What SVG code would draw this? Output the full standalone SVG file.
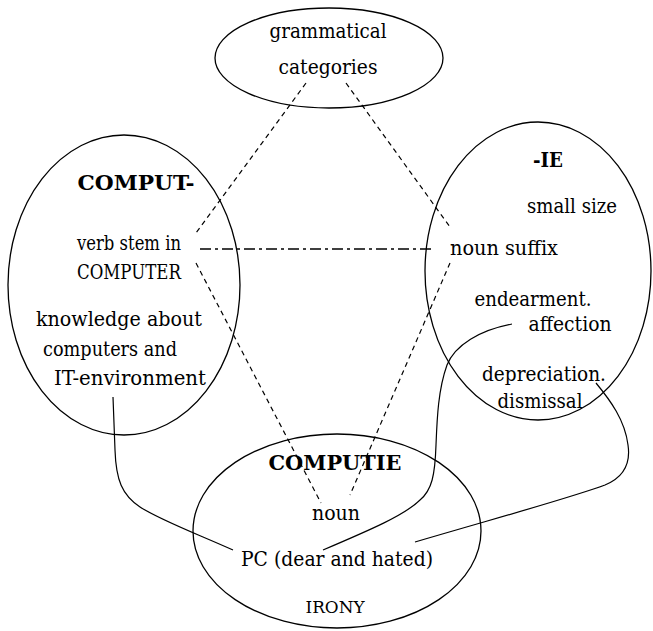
<svg xmlns="http://www.w3.org/2000/svg" width="653" height="631" viewBox="0 0 653 631">
<style>
ellipse{fill:none;stroke:#000;stroke-width:1.3}
text{font-family:'DejaVu Serif','Liberation Serif','Noto Serif',serif;font-size:21px;fill:#000;text-anchor:middle}
.b{font-weight:bold}
.s{font-size:16px}
.dash{fill:none;stroke:#000;stroke-width:1.2;stroke-dasharray:5 4}
.dd{fill:none;stroke:#000;stroke-width:1.6;stroke-dasharray:11 4 3 4}
.sol{fill:none;stroke:#000;stroke-width:1.2}
</style>
<rect width="653" height="631" fill="#fff"/>
<g id="grammatical">
<ellipse cx="329" cy="58" rx="114" ry="50"/>
<text x="328" y="38" textLength="117" lengthAdjust="spacingAndGlyphs">grammatical</text>
<text x="328" y="74" textLength="99" lengthAdjust="spacingAndGlyphs">categories</text>
</g>
<g id="comput">
<ellipse cx="124" cy="285" rx="116" ry="150"/>
<text class="b" x="136" y="190" textLength="117" lengthAdjust="spacingAndGlyphs">COMPUT-</text>
<text x="129" y="250" textLength="104" lengthAdjust="spacingAndGlyphs">verb stem in</text>
<text x="129" y="279" textLength="104" lengthAdjust="spacingAndGlyphs">COMPUTER</text>
<text x="119" y="326" textLength="166" lengthAdjust="spacingAndGlyphs">knowledge about</text>
<text x="110" y="356" textLength="134" lengthAdjust="spacingAndGlyphs">computers and</text>
<text x="130" y="385" textLength="152" lengthAdjust="spacingAndGlyphs">IT-environment</text>
</g>
<g id="ie">
<ellipse cx="538" cy="271" rx="113" ry="149"/>
<text class="b" x="548" y="167" textLength="30" lengthAdjust="spacingAndGlyphs">-IE</text>
<text x="572" y="213" textLength="90" lengthAdjust="spacingAndGlyphs">small size</text>
<text x="504" y="255" textLength="108" lengthAdjust="spacingAndGlyphs">noun suffix</text>
<text x="533" y="306" textLength="117" lengthAdjust="spacingAndGlyphs">endearment.</text>
<text x="570" y="331" textLength="83" lengthAdjust="spacingAndGlyphs">affection</text>
<text x="544" y="381" textLength="124" lengthAdjust="spacingAndGlyphs">depreciation.</text>
<text x="540" y="408" textLength="85" lengthAdjust="spacingAndGlyphs">dismissal</text>
</g>
<g id="computie">
<ellipse cx="337" cy="531" rx="144" ry="97"/>
<text class="b" x="335" y="470" textLength="133" lengthAdjust="spacingAndGlyphs">COMPUTIE</text>
<text x="336" y="520" textLength="48" lengthAdjust="spacingAndGlyphs">noun</text>
<text x="337" y="566" textLength="192" lengthAdjust="spacingAndGlyphs">PC (dear and hated)</text>
<text class="s" x="335" y="613" textLength="59" lengthAdjust="spacingAndGlyphs">IRONY</text>
</g>
<g id="connectors">
<line class="dash" x1="306" y1="83" x2="196" y2="233"/>
<line class="dash" x1="346" y1="83" x2="450" y2="227"/>
<line class="dash" x1="196" y1="263" x2="321" y2="503"/>
<line class="dash" x1="450" y1="263" x2="350" y2="495"/>
<line class="dd" x1="200" y1="249" x2="433" y2="249"/>
<path class="sol" d="M113 397 L115 450 C116 480 122 495 140 507 C160 520 195 533 233 550"/>
<path class="sol" d="M512 324 C480 330 455 345 447 365 C438 390 437 420 436 445 C435 475 432 490 420 500 C405 515 370 530 323 550"/>
<path class="sol" d="M596 383 C610 400 625 420 628 445 C631 465 622 478 605 485 C570 498 500 517 415 542"/>
</g>
</svg>
